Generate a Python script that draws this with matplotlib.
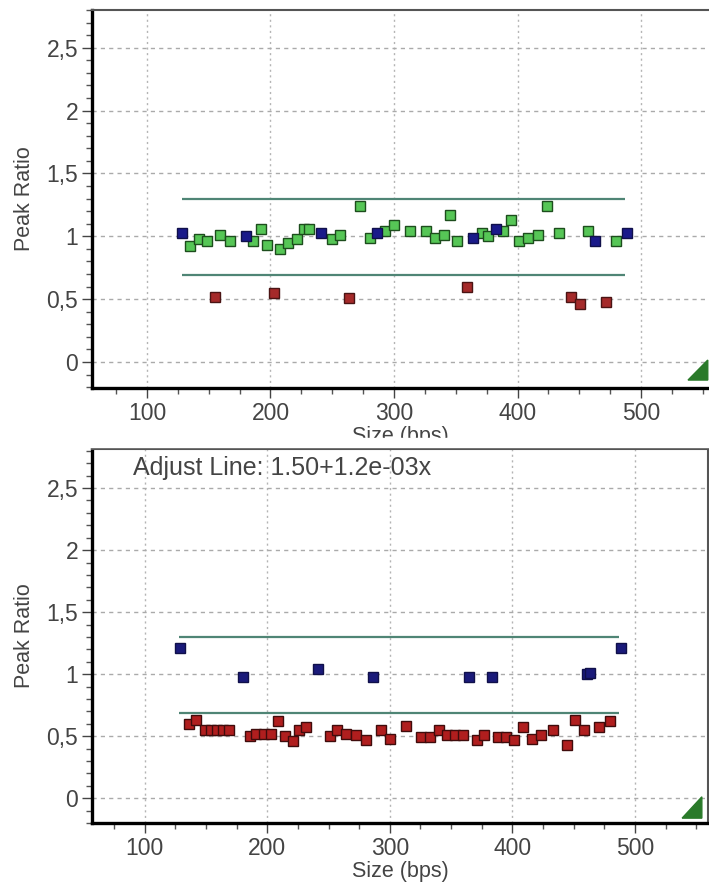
import matplotlib
matplotlib.use("Agg")
import matplotlib.pyplot as plt
from matplotlib.ticker import MultipleLocator, FuncFormatter
from matplotlib.patches import Polygon, Rectangle

plt.rcParams['font.family'] = ['Liberation Sans', 'DejaVu Sans']

# top panel data (size in bps, peak ratio)
top_green_x = [134.8, 142.1, 148.8, 159.1, 167.2, 186.1, 192.3, 196.9, 207.7, 214.4, 221.2, 227.1,
               231.4, 250.0, 256.3, 272.8, 280.6, 292.7, 300.0, 313.0, 326.0, 333.2, 340.7, 345.3,
               351.3, 371.1, 376.4, 388.5, 394.7, 401.2, 408.2, 416.3, 424.1, 433.6, 456.8, 479.8]
top_green_y = [0.92, 0.98, 0.96, 1.01, 0.96, 0.96, 1.06, 0.93, 0.90, 0.95, 0.98, 1.06,
               1.06, 0.98, 1.01, 1.24, 0.99, 1.04, 1.09, 1.04, 1.04, 0.99, 1.01, 1.17,
               0.96, 1.03, 1.00, 1.04, 1.13, 0.96, 0.99, 1.01, 1.24, 1.03, 1.04, 0.96]
top_blue_x = [128.1, 179.9, 240.6, 286.0, 364.3, 382.6, 462.8, 488.4]
top_blue_y = [1.03, 1.00, 1.03, 1.03, 0.99, 1.06, 0.96, 1.03]
top_red_x = [155.1, 202.8, 263.8, 358.9, 443.3, 450.6, 471.4]
top_red_y = [0.52, 0.55, 0.51, 0.60, 0.52, 0.46, 0.48]

# bottom panel data
bot_blue_x = [128.6, 180.0, 241.0, 285.9, 364.2, 383.5, 461.0, 463.5, 488.5]
bot_blue_y = [1.21, 0.98, 1.04, 0.98, 0.98, 0.98, 1.00, 1.01, 1.21]
bot_red_x = [135.9, 142.2, 149, 154, 159, 164, 169, 185.7, 191.2, 197.5, 203.4, 208.8, 214.6,
             221.1, 226.3, 232.0, 251.0, 256.5, 264.0, 272.0, 280.4, 293.0, 300.3, 313.6,
             325.4, 332.7, 339.8, 347.0, 353.5, 359.8, 371.2, 376.8, 388.4, 394.6, 401.1,
             408.5, 416.1, 423.4, 433.3, 444.2, 451.0, 458.2, 470.8, 480.0]
bot_red_y = [0.60, 0.63, 0.55, 0.55, 0.55, 0.55, 0.55, 0.50, 0.52, 0.52, 0.52, 0.62, 0.50,
             0.46, 0.55, 0.57, 0.50, 0.55, 0.52, 0.51, 0.47, 0.55, 0.48, 0.58,
             0.49, 0.49, 0.55, 0.51, 0.51, 0.51, 0.47, 0.51, 0.49, 0.49, 0.47,
             0.57, 0.48, 0.51, 0.55, 0.43, 0.63, 0.55, 0.57, 0.62]

limit_x = [128, 487]
upper_limit = 1.3
lower_limit = 0.69
yticks = [0, 0.5, 1, 1.5, 2, 2.5]
xticks = [100, 200, 300, 400, 500]
adjust_text = "Adjust Line: 1.50+1.2e-03x"

fig = plt.figure(figsize=(7.09, 8.89), dpi=100)
ax1 = fig.add_axes([92/709, 1-388/889, 617/709, 378/889])
ax2 = fig.add_axes([92/709, 1-823/889, 616/709, 374/889])


def style_axes(ax, xlim, ylim, show_right):
    ax.set_xlim(*xlim)
    ax.set_ylim(*ylim)
    ax.set_xticks(xticks)
    ax.set_yticks(yticks)
    ax.xaxis.set_minor_locator(MultipleLocator(25))
    ax.yaxis.set_minor_locator(MultipleLocator(0.1))
    ax.yaxis.set_major_formatter(FuncFormatter(lambda v, p: f"{v:g}".replace('.', ',')))
    ax.tick_params(which='major', length=7, width=1, labelsize=16.5, colors='#444444', pad=3)
    ax.tick_params(which='minor', length=4, width=1, color='#555555')
    ax.spines['left'].set_linewidth(2.4)
    ax.spines['bottom'].set_linewidth(2.4)
    ax.spines['left'].set_color('black')
    ax.spines['bottom'].set_color('black')
    ax.spines['top'].set_linewidth(1.5)
    ax.spines['top'].set_color('#555555')
    ax.spines['right'].set_linewidth(1.5)
    ax.spines['right'].set_color('#555555')
    ax.spines['right'].set_visible(show_right)
    ax.yaxis.grid(True, color='#aaaaaa', linestyle=(0, (3, 3)), linewidth=1)
    ax.xaxis.grid(True, color='#b4b4b4', linestyle=(0, (1.5, 2.5)), linewidth=1)
    ax.set_axisbelow(True)
    ax.set_ylabel("Peak Ratio", fontsize=15.5, color='#444444', labelpad=8)
    ax.set_xlabel("Size (bps)", fontsize=15.5, color='#444444', labelpad=1)
    ax.hlines([upper_limit, lower_limit], limit_x[0], limit_x[1], colors='#4f8575', linewidth=1.6, zorder=2)


style_axes(ax1, (55.5, 555), (-0.207, 2.80), False)
style_axes(ax2, (57, 559.6), (-0.2, 2.815), True)

ms = 6.5
ax1.plot(top_green_x, top_green_y, 's', ms=ms, mfc='#56c656', mec='#1d4d1d', mew=1, zorder=3)
ax1.plot(top_blue_x, top_blue_y, 's', ms=ms, mfc='#1a1a8a', mec='#10104a', mew=1, zorder=3)
ax1.plot(top_red_x, top_red_y, 's', ms=ms, mfc='#a52a2a', mec='#4a1414', mew=1, zorder=3)

ax2.plot(bot_red_x, bot_red_y, 's', ms=ms, mfc='#b01e1e', mec='#3f0c0c', mew=1, zorder=3)
ax2.plot(bot_blue_x, bot_blue_y, 's', ms=ms, mfc='#1a1a7a', mec='#10104a', mew=1, zorder=3)

ax2.text(0.067, 0.949, adjust_text, transform=ax2.transAxes, fontsize=18,
         color='#444444', ha='left', va='center')

# green resize handles in the corners
ax1.add_patch(Polygon([[0.966, 0.021], [0.998, 0.074], [0.998, 0.021]], closed=True,
                      transform=ax1.transAxes, color='#2a7a2a', zorder=4, clip_on=False))
ax2.add_patch(Polygon([[0.958, 0.013], [0.990, 0.070], [0.990, 0.013]], closed=True,
                      transform=ax2.transAxes, color='#2a7a2a', zorder=4, clip_on=False))

# the lower panel hides the bottom of the upper x label
fig.patches.append(Rectangle((0, 1-447/889), 1, 9/889, transform=fig.transFigure,
                             color='white', zorder=10))

fig.savefig("out.png", dpi=100)
